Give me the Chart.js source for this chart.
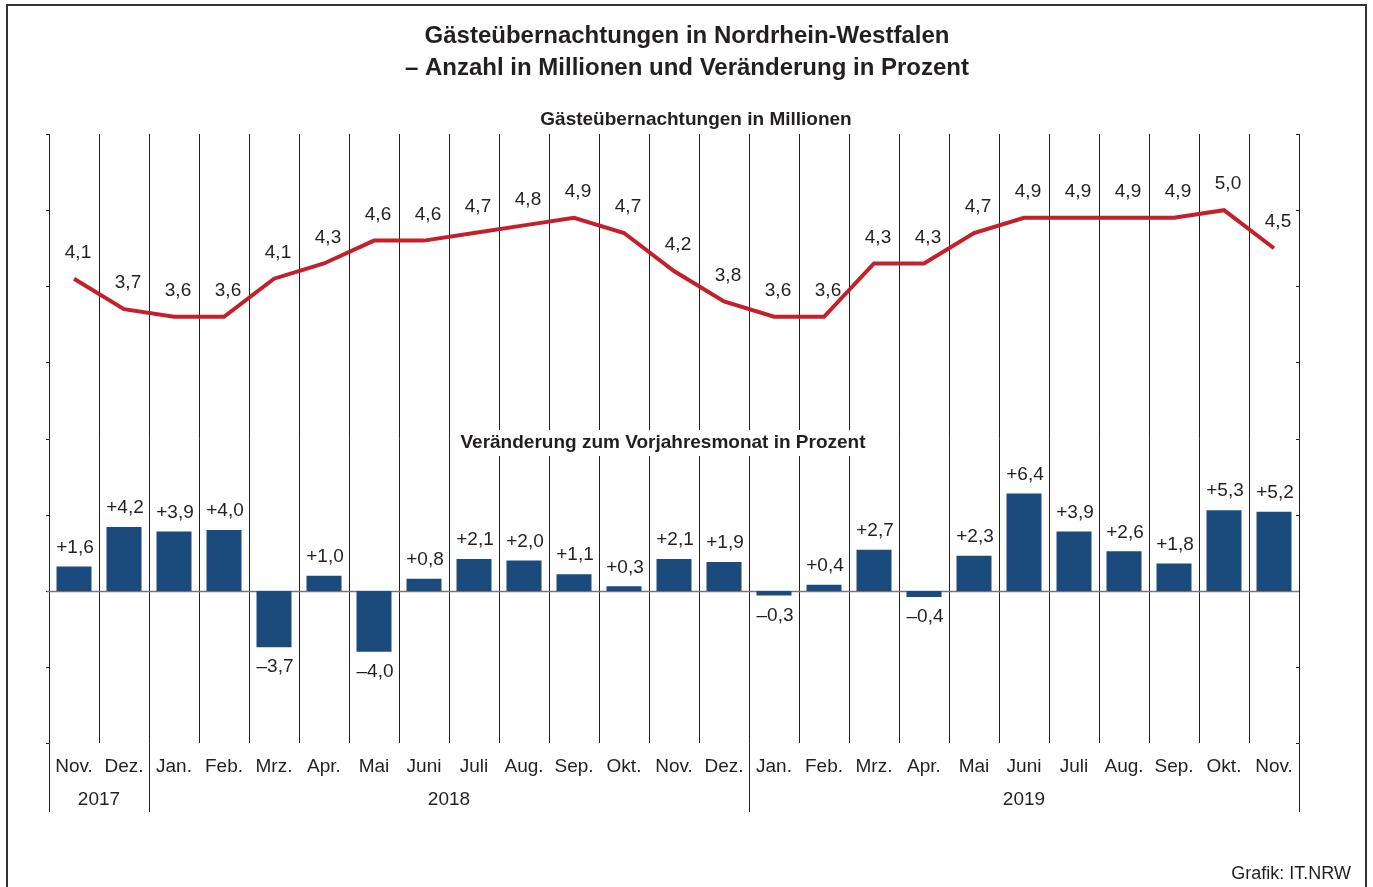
<!DOCTYPE html>
<html lang="de">
<head>
<meta charset="UTF-8">
<title>Gästeübernachtungen NRW</title>
<script src="https://cdn.jsdelivr.net/npm/chart.js"></script>
<style>
  body { margin: 0; background: #fff; }
  canvas { display: block; }
</style>
</head>
<body>
<canvas id="grafik" width="1373" height="887"></canvas>
<script>
  // Monate Nov. 2017 bis Nov. 2019
  const monate = ["Nov.", "Dez.", "Jan.", "Feb.", "Mrz.", "Apr.", "Mai", "Juni", "Juli", "Aug.", "Sep.", "Okt.", "Nov.", "Dez.",
    "Jan.", "Feb.", "Mrz.", "Apr.", "Mai", "Juni", "Juli", "Aug.", "Sep.", "Okt.", "Nov."];
  const jahre = [
    { label: "2017", von: 0, bis: 1 },
    { label: "2018", von: 2, bis: 13 },
    { label: "2019", von: 14, bis: 24 }
  ];
  // Übernachtungen in Millionen
  const uebernachtungen = [4.1, 3.7, 3.6, 3.6, 4.1, 4.3, 4.6, 4.6, 4.7, 4.8, 4.9, 4.7, 4.2, 3.8,
    3.6, 3.6, 4.3, 4.3, 4.7, 4.9, 4.9, 4.9, 4.9, 5.0, 4.5];
  // Veränderung zum Vorjahresmonat in %
  const veraenderung = [1.6, 4.2, 3.9, 4.0, -3.7, 1.0, -4.0, 0.8, 2.1, 2.0, 1.1, 0.3, 2.1, 1.9,
    -0.3, 0.4, 2.7, -0.4, 2.3, 6.4, 3.9, 2.6, 1.8, 5.3, 5.2];

  const schrift = "'Liberation Sans', Arial, Helvetica, sans-serif";
  const textFarbe = "#231f20";

  function fmt(v, vorzeichen) {
    let s = Math.abs(v).toFixed(1).replace(".", ",");
    if (!vorzeichen) return s;
    return (v < 0 ? "\u2013" : "+") + s;
  }

  const rahmenPlugin = {
    id: "rahmen",
    beforeDraw(chart) {
      const ctx = chart.ctx;
      ctx.save();
      ctx.fillStyle = "#fff";
      ctx.fillRect(0, 0, chart.width, chart.height);
      ctx.restore();
    },
    beforeDatasetsDraw(chart) {
      const ctx = chart.ctx;
      const a = chart.chartArea;
      const yL = chart.scales.yLinie;
      const yB = chart.scales.yBalken;
      ctx.save();
      ctx.strokeStyle = textFarbe;
      ctx.lineWidth = 1;
      // Achsenstriche links und rechts
      for (let v = -2; v <= 6; v++) {
        const y = Math.round(yL.getPixelForValue(v)) + 0.5;
        ctx.beginPath();
        ctx.moveTo(a.left - 3, y); ctx.lineTo(a.left, y);
        ctx.moveTo(a.right - 3, y); ctx.lineTo(a.right, y);
        ctx.stroke();
      }
      // Jahrestrenner nach unten verlängert
      const grenzen = [0, 2, 14, 25];
      grenzen.forEach(i => {
        const px = Math.round(a.left + i * (a.right - a.left) / monate.length) + 0.5;
        ctx.beginPath();
        ctx.moveTo(px, a.bottom); ctx.lineTo(px, 812);
        ctx.stroke();
      });
      // Nulllinie
      const y0 = Math.round(yB.getPixelForValue(0)) + 0.5;
      ctx.strokeStyle = "#777";
      ctx.lineWidth = 1.5;
      ctx.beginPath();
      ctx.moveTo(a.left - 2, y0); ctx.lineTo(a.right, y0);
      ctx.stroke();
      ctx.restore();
    },
    afterDatasetsDraw(chart) {
      const ctx = chart.ctx;
      ctx.save();
      ctx.fillStyle = textFarbe;
      ctx.font = "19px " + schrift;
      ctx.textAlign = "center";
      ctx.textBaseline = "middle";
      const linie = chart.getDatasetMeta(1).data;
      linie.forEach((p, i) => {
        ctx.fillText(fmt(uebernachtungen[i], false), p.x + 4, p.y - 26);
      });
      const balken = chart.getDatasetMeta(0).data;
      balken.forEach((b, i) => {
        const v = veraenderung[i];
        const y = v >= 0 ? b.y - 19 : b.y + 20;
        ctx.fillText(fmt(v, true), b.x + 1, y);
      });
      ctx.restore();
    },
    afterDraw(chart) {
      const ctx = chart.ctx;
      const x = chart.scales.x;
      ctx.save();
      ctx.fillStyle = textFarbe;
      ctx.textAlign = "center";
      ctx.textBaseline = "middle";
      // Titel
      ctx.font = "bold 24px " + schrift;
      ctx.fillText("Gästeübernachtungen in Nordrhein-Westfalen", 687, 36);
      ctx.fillText("\u2013 Anzahl in Millionen und Veränderung in Prozent", 687, 68);
      // Untertitel
      ctx.font = "bold 19px " + schrift;
      ctx.fillText("Gästeübernachtungen in Millionen", 696, 120);
      const t2 = "Veränderung zum Vorjahresmonat in Prozent";
      const w2 = ctx.measureText(t2).width;
      ctx.fillStyle = "#fff";
      ctx.fillRect(663 - w2 / 2 - 8, 430, w2 + 16, 26);
      ctx.fillStyle = textFarbe;
      ctx.fillText(t2, 663, 443);
      // Jahre
      ctx.font = "19px " + schrift;
      jahre.forEach(j => {
        const mitte = (x.getPixelForValue(j.von) + x.getPixelForValue(j.bis)) / 2;
        ctx.fillText(j.label, mitte, 800);
      });
      // Quelle
      ctx.font = "18px " + schrift;
      ctx.textAlign = "right";
      ctx.fillText("Grafik: IT.NRW", 1351, 874);
      // Rahmen
      ctx.strokeStyle = "#333";
      ctx.lineWidth = 2;
      ctx.strokeRect(7, 5, 1359, 900);
      ctx.restore();
    }
  };

  new Chart(document.getElementById("grafik"), {
    type: "bar",
    data: {
      labels: monate,
      datasets: [
        {
          type: "bar",
          label: "Veränderung",
          data: veraenderung,
          yAxisID: "yBalken",
          backgroundColor: "#1b4a7c",
          barPercentage: 0.7,
          categoryPercentage: 1.0,
          order: 1
        },
        {
          type: "line",
          label: "Übernachtungen",
          data: uebernachtungen,
          yAxisID: "yLinie",
          borderColor: "#c4202b",
          borderWidth: 4,
          pointRadius: 0,
          tension: 0,
          fill: false,
          order: 0
        }
      ]
    },
    options: {
      responsive: false,
      devicePixelRatio: 1,
      animation: false,
      layout: { padding: { left: 49, right: 74, top: 134, bottom: 97 } },
      plugins: {
        legend: { display: false },
        tooltip: { enabled: false }
      },
      scales: {
        x: {
          offset: true,
          grid: { offset: true, color: textFarbe, lineWidth: 1, drawTicks: false },
          border: { display: false },
          ticks: { color: textFarbe, font: { family: schrift, size: 19 }, padding: 12, maxRotation: 0, autoSkip: false }
        },
        yBalken: { display: false, min: -10, max: 30 },
        yLinie: { display: false, min: -2, max: 6 }
      }
    },
    plugins: [rahmenPlugin]
  });
</script>
</body>
</html>
